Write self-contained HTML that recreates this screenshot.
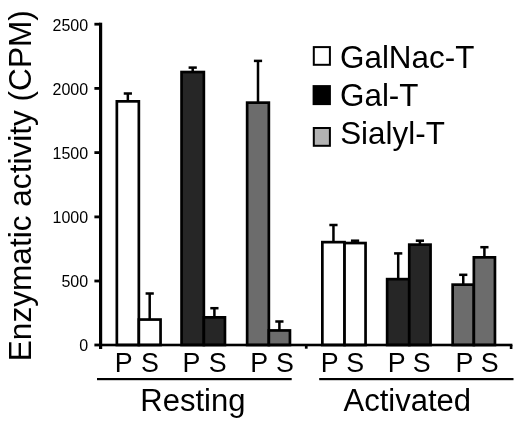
<!DOCTYPE html>
<html><head><meta charset="utf-8"><style>
html,body{margin:0;padding:0;background:#fff;}
svg{display:block;will-change:transform;}
text{font-family:"Liberation Sans", sans-serif;fill:#000;}
</style></head><body>
<svg width="520" height="421" viewBox="0 0 520 421">
<rect x="126.60" y="93.50" width="2.5" height="7.50" fill="#000"/>
<rect x="123.75" y="92.25" width="8.2" height="2.5" fill="#000"/>
<rect x="148.45" y="293.50" width="2.5" height="25.70" fill="#000"/>
<rect x="145.60" y="292.25" width="8.2" height="2.5" fill="#000"/>
<rect x="116.85" y="101.35" width="22.00" height="243.65" fill="#ffffff" stroke="#000" stroke-width="2.7"/>
<rect x="138.85" y="319.55" width="21.70" height="25.45" fill="#ffffff" stroke="#000" stroke-width="2.7"/>
<rect x="191.45" y="67.60" width="2.5" height="4.10" fill="#000"/>
<rect x="188.60" y="66.35" width="8.2" height="2.5" fill="#000"/>
<rect x="213.15" y="308.20" width="2.5" height="8.80" fill="#000"/>
<rect x="210.30" y="306.95" width="8.2" height="2.5" fill="#000"/>
<rect x="181.55" y="72.05" width="22.30" height="272.95" fill="#262626" stroke="#000" stroke-width="2.7"/>
<rect x="203.85" y="317.35" width="21.10" height="27.65" fill="#262626" stroke="#000" stroke-width="2.7"/>
<rect x="256.75" y="60.90" width="2.5" height="41.40" fill="#000"/>
<rect x="253.90" y="59.65" width="8.2" height="2.5" fill="#000"/>
<rect x="278.15" y="321.50" width="2.5" height="8.60" fill="#000"/>
<rect x="275.30" y="320.25" width="8.2" height="2.5" fill="#000"/>
<rect x="247.15" y="102.65" width="21.70" height="242.35" fill="#6c6c6c" stroke="#000" stroke-width="2.7"/>
<rect x="268.85" y="330.45" width="21.10" height="14.55" fill="#6c6c6c" stroke="#000" stroke-width="2.7"/>
<rect x="332.20" y="225.00" width="2.5" height="16.80" fill="#000"/>
<rect x="329.35" y="223.75" width="8.2" height="2.5" fill="#000"/>
<rect x="353.80" y="240.70" width="2.5" height="2.00" fill="#000"/>
<rect x="350.95" y="239.45" width="8.2" height="2.5" fill="#000"/>
<rect x="322.35" y="242.15" width="22.20" height="102.85" fill="#ffffff" stroke="#000" stroke-width="2.7"/>
<rect x="344.55" y="243.05" width="21.00" height="101.95" fill="#ffffff" stroke="#000" stroke-width="2.7"/>
<rect x="396.95" y="253.40" width="2.5" height="25.40" fill="#000"/>
<rect x="394.10" y="252.15" width="8.2" height="2.5" fill="#000"/>
<rect x="418.65" y="240.70" width="2.5" height="3.60" fill="#000"/>
<rect x="415.80" y="239.45" width="8.2" height="2.5" fill="#000"/>
<rect x="387.15" y="279.15" width="22.10" height="65.85" fill="#262626" stroke="#000" stroke-width="2.7"/>
<rect x="409.25" y="244.65" width="21.30" height="100.35" fill="#262626" stroke="#000" stroke-width="2.7"/>
<rect x="462.00" y="274.80" width="2.5" height="9.50" fill="#000"/>
<rect x="459.15" y="273.55" width="8.2" height="2.5" fill="#000"/>
<rect x="483.15" y="247.20" width="2.5" height="9.80" fill="#000"/>
<rect x="480.30" y="245.95" width="8.2" height="2.5" fill="#000"/>
<rect x="452.65" y="284.65" width="21.20" height="60.35" fill="#6c6c6c" stroke="#000" stroke-width="2.7"/>
<rect x="473.85" y="257.35" width="21.10" height="87.65" fill="#6c6c6c" stroke="#000" stroke-width="2.7"/>
<rect x="99.0" y="22.7" width="3.2" height="326.30" fill="#000"/>
<rect x="94.4" y="22.80" width="6" height="2.8" fill="#000"/>
<text x="88.1" y="30.60" font-size="16" text-anchor="end">2500</text>
<rect x="94.4" y="87.00" width="6" height="2.8" fill="#000"/>
<text x="88.1" y="94.80" font-size="16" text-anchor="end">2000</text>
<rect x="94.4" y="151.20" width="6" height="2.8" fill="#000"/>
<text x="88.1" y="159.00" font-size="16" text-anchor="end">1500</text>
<rect x="94.4" y="215.50" width="6" height="2.8" fill="#000"/>
<text x="88.1" y="223.30" font-size="16" text-anchor="end">1000</text>
<rect x="94.4" y="279.60" width="6" height="2.8" fill="#000"/>
<text x="88.1" y="287.40" font-size="16" text-anchor="end">500</text>
<rect x="94.4" y="343.60" width="6" height="2.8" fill="#000"/>
<text x="88.1" y="351.40" font-size="16" text-anchor="end">0</text>
<rect x="99" y="343.70" width="413.40" height="2.6" fill="#000"/>
<rect x="304.9" y="345.00" width="2.7" height="3.70" fill="#000"/>
<rect x="509.8" y="345.00" width="2.6" height="4.00" fill="#000"/>
<text x="114.76" y="371.5" font-size="26.8">P</text>
<text x="141.09" y="371.5" font-size="26.8">S</text>
<text x="182.46" y="371.5" font-size="26.8">P</text>
<text x="208.69" y="371.5" font-size="26.8">S</text>
<text x="250.26" y="371.5" font-size="26.8">P</text>
<text x="275.99" y="371.5" font-size="26.8">S</text>
<text x="320.76" y="371.5" font-size="26.8">P</text>
<text x="346.29" y="371.5" font-size="26.8">S</text>
<text x="387.86" y="371.5" font-size="26.8">P</text>
<text x="412.79" y="371.5" font-size="26.8">S</text>
<text x="455.56" y="371.5" font-size="26.8">P</text>
<text x="480.69" y="371.5" font-size="26.8">S</text>
<rect x="97" y="378" width="194.70" height="2.2" fill="#000"/>
<rect x="319.2" y="378" width="194.30" height="2.2" fill="#000"/>
<text x="140.32" y="411" font-size="31">Resting</text>
<text x="343.55" y="411" font-size="31">Activated</text>
<text transform="translate(31,361.23) rotate(-90)" font-size="31.6">Enzymatic activity (CPM)</text>
<rect x="313.8" y="47.1" width="16.1" height="17.7" fill="#fff" stroke="#000" stroke-width="2"/>
<rect x="312.6" y="85.1" width="18.3" height="20" fill="#000"/>
<rect x="313.8" y="128" width="16.1" height="17.8" fill="#b3b3b3" stroke="#000" stroke-width="2"/>
<text x="340.03" y="67.8" font-size="31.4">GalNac-T</text>
<text x="340.03" y="105.9" font-size="31.4">Gal-T</text>
<text x="340.19" y="143.5" font-size="31.4">Sialyl-T</text>
</svg>
</body></html>
